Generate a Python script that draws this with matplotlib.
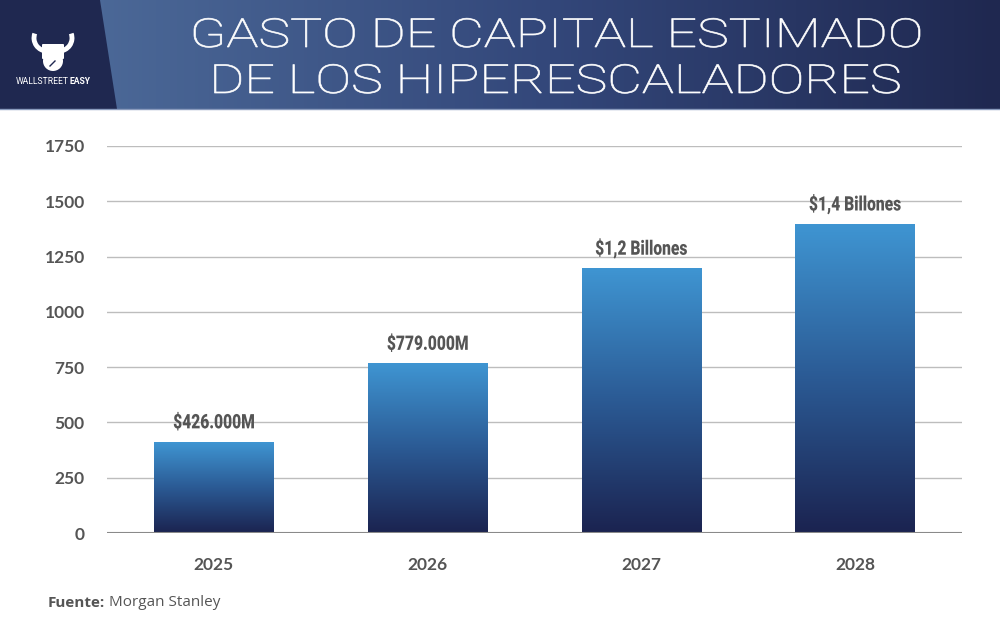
import numpy as np
import matplotlib.pyplot as plt
from matplotlib.colors import LinearSegmentedColormap
from matplotlib.patches import Polygon, Circle, Arc, PathPatch, FancyBboxPatch
from matplotlib.textpath import TextPath
from matplotlib.font_manager import FontProperties
from matplotlib.transforms import Affine2D

# chart data
years = ['2025', '2026', '2027', '2028']
capex = [410, 765, 1195, 1395]
labels = ['$426.000M', '$779.000M', '$1,2 Billones', '$1,4 Billones']
yticks = [0, 250, 500, 750, 1000, 1250, 1500, 1750]

title_lines = ['GASTO DE CAPITAL ESTIMADO', 'DE LOS HIPERESCALADORES']
source = 'Morgan Stanley'

NAVY = '#1f2850'
GREY = '#555555'
W, H = 1000, 632

bar_cmap = LinearSegmentedColormap.from_list('bar', ['#1b2350', '#2b5a94', '#3f95d2'])
head_cmap = LinearSegmentedColormap.from_list('head', ['#4b6897', '#33477a', '#1f2850'])


def path_text(ax, s, x, base, size, sx, color, family='Lato', weight='normal', ha='center', edge=0):
    # text as a path so it can be squeezed / widened horizontally
    tp = TextPath((0, 0), s, size=size, prop=FontProperties(family=family, weight=weight))
    ext = tp.get_extents()
    w = ext.width * sx
    x0 = x - w / 2 if ha == 'center' else x
    tr = Affine2D().translate(-ext.x0, 0).scale(sx, -1).translate(x0, base)
    ax.add_patch(PathPatch(tr.transform_path(tp), facecolor=color, edgecolor=color if edge else 'none',
                           lw=edge, zorder=5))
    return w


def pixel_axes(z):
    a = fig.add_axes([0, 0, 1, 1], zorder=z)
    a.set_xlim(0, W)
    a.set_ylim(H, 0)
    a.axis('off')
    a.patch.set_alpha(0)
    return a


fig = plt.figure(figsize=(W / 100, H / 100), dpi=100)
fig.patch.set_facecolor('white')

bg = pixel_axes(0)

# header band
grad = np.linspace(0, 1, 256).reshape(1, -1)
bg.imshow(grad, cmap=head_cmap, extent=[100, W, 109, 0], aspect='auto', zorder=1)
bg.add_patch(Polygon([(0, 0), (100, 0), (117, 109), (0, 109)], closed=True,
                     facecolor=NAVY, edgecolor='none', zorder=2))
bg.plot([0, W], [109, 109], color='#8a9bbd', lw=1, zorder=3)

# logo
bg.add_patch(Circle((53, 61), 10, facecolor='white', edgecolor='none', zorder=4))
bg.add_patch(FancyBboxPatch((43, 45), 20, 13, boxstyle='round,pad=1', facecolor='white',
                            edgecolor='none', zorder=4))
bg.add_patch(Arc((47, 38), 26, 26, theta1=90, theta2=200, color='white', lw=3.5, zorder=4))
bg.add_patch(Arc((59, 38), 26, 26, theta1=-20, theta2=90, color='white', lw=3.5, zorder=4))
bg.plot([50, 55], [66, 61], color=NAVY, lw=1, zorder=5)
t = bg.text(16, 82, 'WALLSTREET', color='white', fontsize=6.2, family='Roboto',
            ha='left', va='center', zorder=4)
bg.annotate('EASY', xy=(1, 0.5), xycoords=t, va='center', ha='left', color='white',
            fontsize=6.2, family='Roboto', fontweight='bold', zorder=4)

# title, widened to look like the original geometric face
title_font = dict(family='Roboto', weight='light')
tp0 = TextPath((0, 0), title_lines[0], size=40, prop=FontProperties(**title_font))
title_sx = 726 / tp0.get_extents().width
for i, line in enumerate(title_lines):
    path_text(bg, line, 557, 47 + i * 46, 40, title_sx, 'white', edge=0.5, **title_font)

# source
t = bg.text(48, 603, 'Fuente:', color=GREY, fontsize=11, family='Open Sans', fontweight='bold',
            ha='left', va='center')
bg.annotate(' ' + source, xy=(1, 0.5), xycoords=t, va='center', ha='left', color=GREY,
            fontsize=11, family='Open Sans')

# main chart
ax = fig.add_axes([0.107, 0.1566, 0.855, 0.6124], zorder=1)
ax.patch.set_alpha(0)
x = np.arange(len(years))
width = 0.56
ax.set_xlim(-0.5, 3.5)
ax.set_ylim(0, 1750)

# value labels go on a layer above the grid
fg = pixel_axes(2)

vgrad = np.linspace(0, 1, 256).reshape(-1, 1)
for xi, v, lab in zip(x, capex, labels):
    ax.imshow(vgrad, cmap=bar_cmap, origin='lower', aspect='auto',
              extent=[xi - width / 2, xi + width / 2, 0, v], zorder=2)
    px, py = ax.transData.transform((xi, v))
    path_text(fg, lab, px, H - py - 14, 20, 0.78, GREY, family='Roboto', weight='black')

ax.set_yticks(yticks)
ax.set_xticks(x)
ax.set_xticklabels(years)
for tl in ax.get_yticklabels() + ax.get_xticklabels():
    tl.set_family('Lato')
    tl.set_fontweight('bold')
    tl.set_color(GREY)
    tl.set_fontsize(12.5)

ax.grid(axis='y', color='#bdbdbd', lw=1)
ax.set_axisbelow(True)
ax.axhline(0, color='#8a8a8a', lw=1.5, zorder=3)
ax.tick_params(length=0)
ax.tick_params(axis='y', pad=16)
ax.tick_params(axis='x', pad=17)
for s in ax.spines.values():
    s.set_visible(False)

fig.savefig('out.png', dpi=100)
